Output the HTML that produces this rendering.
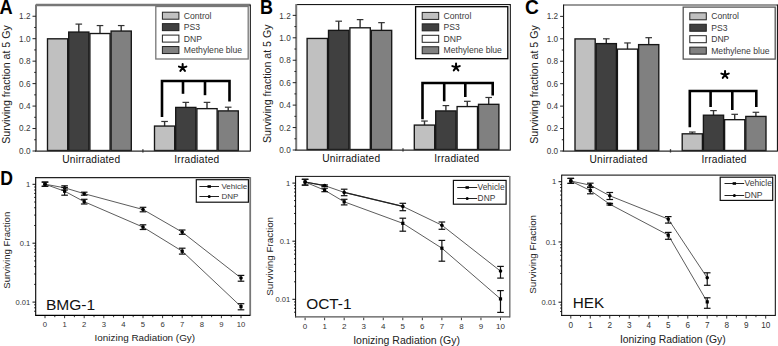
<!DOCTYPE html>
<html><head><meta charset="utf-8"><style>
html,body{margin:0;padding:0;background:#fff;width:778px;height:346px;overflow:hidden}
svg{display:block;font-family:"Liberation Sans", sans-serif}
</style></head><body>
<svg width="778" height="346" viewBox="0 0 778 346" font-family='"Liberation Sans", sans-serif'>
<rect x="0" y="0" width="778" height="346" fill="#fff"/>
<text x="0" y="0" font-size="20" font-weight="bold" fill="#000" transform="translate(-0.50 13.60) scale(0.91 1)">A</text>
<rect x="47.50" y="38.80" width="20.20" height="111.70" fill="#c0c0c0" stroke="#161616" stroke-width="1.35"/>
<line x1="78.80" y1="24.10" x2="78.80" y2="31.96" stroke="#333" stroke-width="1.4"/>
<line x1="75.50" y1="24.10" x2="82.10" y2="24.10" stroke="#333" stroke-width="1.2"/>
<rect x="68.70" y="32.06" width="20.20" height="118.44" fill="#404040" stroke="#161616" stroke-width="1.35"/>
<line x1="100.00" y1="25.56" x2="100.00" y2="33.42" stroke="#333" stroke-width="1.4"/>
<line x1="96.70" y1="25.56" x2="103.30" y2="25.56" stroke="#333" stroke-width="1.2"/>
<rect x="89.90" y="33.52" width="20.20" height="116.98" fill="#ffffff" stroke="#161616" stroke-width="1.35"/>
<line x1="121.20" y1="25.56" x2="121.20" y2="30.95" stroke="#333" stroke-width="1.4"/>
<line x1="117.90" y1="25.56" x2="124.50" y2="25.56" stroke="#333" stroke-width="1.2"/>
<rect x="111.10" y="31.05" width="20.20" height="119.45" fill="#808080" stroke="#161616" stroke-width="1.35"/>
<line x1="164.60" y1="121.47" x2="164.60" y2="125.96" stroke="#333" stroke-width="1.4"/>
<line x1="161.30" y1="121.47" x2="167.90" y2="121.47" stroke="#333" stroke-width="1.2"/>
<rect x="154.50" y="126.06" width="20.20" height="24.44" fill="#c0c0c0" stroke="#161616" stroke-width="1.35"/>
<line x1="185.80" y1="102.37" x2="185.80" y2="107.32" stroke="#333" stroke-width="1.4"/>
<line x1="182.50" y1="102.37" x2="189.10" y2="102.37" stroke="#333" stroke-width="1.2"/>
<rect x="175.70" y="107.42" width="20.20" height="43.08" fill="#404040" stroke="#161616" stroke-width="1.35"/>
<line x1="207.00" y1="102.37" x2="207.00" y2="108.55" stroke="#333" stroke-width="1.4"/>
<line x1="203.70" y1="102.37" x2="210.30" y2="102.37" stroke="#333" stroke-width="1.2"/>
<rect x="196.90" y="108.65" width="20.20" height="41.85" fill="#ffffff" stroke="#161616" stroke-width="1.35"/>
<line x1="228.20" y1="107.20" x2="228.20" y2="110.80" stroke="#333" stroke-width="1.4"/>
<line x1="224.90" y1="107.20" x2="231.50" y2="107.20" stroke="#333" stroke-width="1.2"/>
<rect x="218.10" y="110.90" width="20.20" height="39.60" fill="#808080" stroke="#161616" stroke-width="1.35"/>
<line x1="36.00" y1="5.00" x2="250.30" y2="5.00" stroke="#777" stroke-width="2.5"/>
<line x1="36.00" y1="4.50" x2="36.00" y2="151.00" stroke="#777" stroke-width="2"/>
<line x1="250.30" y1="4.50" x2="250.30" y2="151.50" stroke="#000" stroke-width="1"/>
<line x1="35.00" y1="151.10" x2="250.30" y2="151.10" stroke="#2a2a2a" stroke-width="1.15"/>
<line x1="142.90" y1="149.20" x2="142.90" y2="152.50" stroke="#333" stroke-width="1.3"/>
<line x1="32.50" y1="151.00" x2="36.00" y2="151.00" stroke="#222" stroke-width="1"/>
<text x="30.50" y="153.90" font-size="8.2" text-anchor="end" fill="#383838" font-weight="normal" >0.0</text>
<line x1="34.20" y1="139.77" x2="36.00" y2="139.77" stroke="#222" stroke-width="1"/>
<line x1="32.50" y1="128.54" x2="36.00" y2="128.54" stroke="#222" stroke-width="1"/>
<text x="30.50" y="131.44" font-size="8.2" text-anchor="end" fill="#383838" font-weight="normal" >0.2</text>
<line x1="34.20" y1="117.31" x2="36.00" y2="117.31" stroke="#222" stroke-width="1"/>
<line x1="32.50" y1="106.08" x2="36.00" y2="106.08" stroke="#222" stroke-width="1"/>
<text x="30.50" y="108.98" font-size="8.2" text-anchor="end" fill="#383838" font-weight="normal" >0.4</text>
<line x1="34.20" y1="94.85" x2="36.00" y2="94.85" stroke="#222" stroke-width="1"/>
<line x1="32.50" y1="83.62" x2="36.00" y2="83.62" stroke="#222" stroke-width="1"/>
<text x="30.50" y="86.52" font-size="8.2" text-anchor="end" fill="#383838" font-weight="normal" >0.6</text>
<line x1="34.20" y1="72.39" x2="36.00" y2="72.39" stroke="#222" stroke-width="1"/>
<line x1="32.50" y1="61.16" x2="36.00" y2="61.16" stroke="#222" stroke-width="1"/>
<text x="30.50" y="64.06" font-size="8.2" text-anchor="end" fill="#383838" font-weight="normal" >0.8</text>
<line x1="34.20" y1="49.93" x2="36.00" y2="49.93" stroke="#222" stroke-width="1"/>
<line x1="32.50" y1="38.70" x2="36.00" y2="38.70" stroke="#222" stroke-width="1"/>
<text x="30.50" y="41.60" font-size="8.2" text-anchor="end" fill="#383838" font-weight="normal" >1.0</text>
<line x1="34.20" y1="27.47" x2="36.00" y2="27.47" stroke="#222" stroke-width="1"/>
<line x1="32.50" y1="16.24" x2="36.00" y2="16.24" stroke="#222" stroke-width="1"/>
<text x="30.50" y="19.14" font-size="8.2" text-anchor="end" fill="#383838" font-weight="normal" >1.2</text>
<text x="0" y="0" font-size="10.62" text-anchor="middle" fill="#222" transform="translate(10.30 84.50) scale(1.06 1) rotate(-90)">Surviving fraction at 5 Gy</text>
<text x="91.30" y="162.80" font-size="10.2" text-anchor="middle" fill="#111" font-weight="normal" letter-spacing="0.22">Unirradiated</text>
<text x="196.90" y="162.80" font-size="10.2" text-anchor="middle" fill="#111" font-weight="normal" letter-spacing="0.22">Irradiated</text>
<rect x="155.80" y="6.50" width="92.40" height="52.50" fill="#fff" stroke="#777" stroke-width="1.3"/>
<rect x="162.40" y="12.20" width="16.50" height="7.00" fill="#c0c0c0" stroke="#222" stroke-width="1"/>
<text x="183.80" y="18.70" font-size="8.6" text-anchor="start" fill="#3a3a3a" font-weight="normal" >Control</text>
<rect x="162.40" y="23.65" width="16.50" height="7.00" fill="#404040" stroke="#222" stroke-width="1"/>
<text x="183.80" y="30.15" font-size="8.6" text-anchor="start" fill="#3a3a3a" font-weight="normal" >PS3</text>
<rect x="162.40" y="35.10" width="16.50" height="7.00" fill="#ffffff" stroke="#222" stroke-width="1"/>
<text x="183.80" y="41.60" font-size="8.6" text-anchor="start" fill="#3a3a3a" font-weight="normal" >DNP</text>
<rect x="162.40" y="46.55" width="16.50" height="7.00" fill="#808080" stroke="#222" stroke-width="1"/>
<text x="183.80" y="53.05" font-size="8.6" text-anchor="start" fill="#3a3a3a" font-weight="normal" >Methylene blue</text>
<path d="M162.00,117.00 V81.00 H229.50 V101.60" fill="none" stroke="#000" stroke-width="2.6"/>
<line x1="183.00" y1="81.00" x2="183.00" y2="93.80" stroke="#000" stroke-width="2.6"/>
<line x1="205.00" y1="81.00" x2="205.00" y2="95.20" stroke="#000" stroke-width="2.6"/>
<path d="M182.65,67.80 l0.00,-3.90 M182.65,67.80 l3.71,-1.21 M182.65,67.80 l-3.71,-1.21 M182.65,67.80 l2.29,3.16 M182.65,67.80 l-2.29,3.16 " stroke="#000" stroke-width="2.0" fill="none" stroke-linecap="round"/>
<text x="0" y="0" font-size="20" font-weight="bold" fill="#000" transform="translate(260.00 13.50) scale(0.9 1)">B</text>
<rect x="307.10" y="38.46" width="20.40" height="111.04" fill="#c0c0c0" stroke="#161616" stroke-width="1.35"/>
<line x1="338.70" y1="21.19" x2="338.70" y2="30.28" stroke="#333" stroke-width="1.4"/>
<line x1="335.40" y1="21.19" x2="342.00" y2="21.19" stroke="#333" stroke-width="1.2"/>
<rect x="328.50" y="30.38" width="20.40" height="119.12" fill="#404040" stroke="#161616" stroke-width="1.35"/>
<line x1="360.10" y1="19.62" x2="360.10" y2="27.70" stroke="#333" stroke-width="1.4"/>
<line x1="356.80" y1="19.62" x2="363.40" y2="19.62" stroke="#333" stroke-width="1.2"/>
<rect x="349.90" y="27.80" width="20.40" height="121.70" fill="#ffffff" stroke="#161616" stroke-width="1.35"/>
<line x1="381.50" y1="22.65" x2="381.50" y2="30.28" stroke="#333" stroke-width="1.4"/>
<line x1="378.20" y1="22.65" x2="384.80" y2="22.65" stroke="#333" stroke-width="1.2"/>
<rect x="371.30" y="30.38" width="20.40" height="119.12" fill="#808080" stroke="#161616" stroke-width="1.35"/>
<line x1="424.50" y1="121.05" x2="424.50" y2="124.98" stroke="#333" stroke-width="1.4"/>
<line x1="421.20" y1="121.05" x2="427.80" y2="121.05" stroke="#333" stroke-width="1.2"/>
<rect x="414.30" y="125.08" width="20.40" height="24.42" fill="#c0c0c0" stroke="#161616" stroke-width="1.35"/>
<line x1="445.90" y1="105.57" x2="445.90" y2="110.84" stroke="#333" stroke-width="1.4"/>
<line x1="442.60" y1="105.57" x2="449.20" y2="105.57" stroke="#333" stroke-width="1.2"/>
<rect x="435.70" y="110.94" width="20.40" height="38.56" fill="#404040" stroke="#161616" stroke-width="1.35"/>
<line x1="467.30" y1="101.31" x2="467.30" y2="106.47" stroke="#333" stroke-width="1.4"/>
<line x1="464.00" y1="101.31" x2="470.60" y2="101.31" stroke="#333" stroke-width="1.2"/>
<rect x="457.10" y="106.57" width="20.40" height="42.93" fill="#ffffff" stroke="#161616" stroke-width="1.35"/>
<line x1="488.70" y1="97.49" x2="488.70" y2="104.22" stroke="#333" stroke-width="1.4"/>
<line x1="485.40" y1="97.49" x2="492.00" y2="97.49" stroke="#333" stroke-width="1.2"/>
<rect x="478.50" y="104.32" width="20.40" height="45.18" fill="#808080" stroke="#161616" stroke-width="1.35"/>
<line x1="296.20" y1="4.60" x2="510.30" y2="4.60" stroke="#000" stroke-width="1"/>
<line x1="296.20" y1="4.10" x2="296.20" y2="150.00" stroke="#777" stroke-width="2"/>
<line x1="510.30" y1="4.10" x2="510.30" y2="150.50" stroke="#000" stroke-width="1"/>
<line x1="295.20" y1="150.10" x2="510.30" y2="150.10" stroke="#2a2a2a" stroke-width="1.15"/>
<line x1="403.00" y1="148.20" x2="403.00" y2="151.50" stroke="#333" stroke-width="1.3"/>
<line x1="292.70" y1="150.00" x2="296.20" y2="150.00" stroke="#222" stroke-width="1"/>
<text x="290.70" y="153.20" font-size="8.2" text-anchor="end" fill="#383838" font-weight="normal" >0.0</text>
<line x1="294.40" y1="138.78" x2="296.20" y2="138.78" stroke="#222" stroke-width="1"/>
<line x1="292.70" y1="127.56" x2="296.20" y2="127.56" stroke="#222" stroke-width="1"/>
<text x="290.70" y="130.76" font-size="8.2" text-anchor="end" fill="#383838" font-weight="normal" >0.2</text>
<line x1="294.40" y1="116.34" x2="296.20" y2="116.34" stroke="#222" stroke-width="1"/>
<line x1="292.70" y1="105.12" x2="296.20" y2="105.12" stroke="#222" stroke-width="1"/>
<text x="290.70" y="108.32" font-size="8.2" text-anchor="end" fill="#383838" font-weight="normal" >0.4</text>
<line x1="294.40" y1="93.90" x2="296.20" y2="93.90" stroke="#222" stroke-width="1"/>
<line x1="292.70" y1="82.68" x2="296.20" y2="82.68" stroke="#222" stroke-width="1"/>
<text x="290.70" y="85.88" font-size="8.2" text-anchor="end" fill="#383838" font-weight="normal" >0.6</text>
<line x1="294.40" y1="71.46" x2="296.20" y2="71.46" stroke="#222" stroke-width="1"/>
<line x1="292.70" y1="60.24" x2="296.20" y2="60.24" stroke="#222" stroke-width="1"/>
<text x="290.70" y="63.44" font-size="8.2" text-anchor="end" fill="#383838" font-weight="normal" >0.8</text>
<line x1="294.40" y1="49.02" x2="296.20" y2="49.02" stroke="#222" stroke-width="1"/>
<line x1="292.70" y1="37.80" x2="296.20" y2="37.80" stroke="#222" stroke-width="1"/>
<text x="290.70" y="41.00" font-size="8.2" text-anchor="end" fill="#383838" font-weight="normal" >1.0</text>
<line x1="294.40" y1="26.58" x2="296.20" y2="26.58" stroke="#222" stroke-width="1"/>
<line x1="292.70" y1="15.36" x2="296.20" y2="15.36" stroke="#222" stroke-width="1"/>
<text x="290.70" y="18.56" font-size="8.2" text-anchor="end" fill="#383838" font-weight="normal" >1.2</text>
<text x="0" y="0" font-size="10.62" text-anchor="middle" fill="#222" transform="translate(271.10 83.80) scale(1.06 1) rotate(-90)">Surviving fraction at 5 Gy</text>
<text x="351.30" y="162.20" font-size="10.2" text-anchor="middle" fill="#111" font-weight="normal" letter-spacing="0.22">Unirradiated</text>
<text x="456.90" y="162.20" font-size="10.2" text-anchor="middle" fill="#111" font-weight="normal" letter-spacing="0.22">Irradiated</text>
<rect x="415.60" y="6.70" width="92.20" height="52.00" fill="#fff" stroke="#000" stroke-width="1.3"/>
<rect x="422.20" y="12.40" width="16.50" height="7.00" fill="#c0c0c0" stroke="#222" stroke-width="1"/>
<text x="443.60" y="18.90" font-size="8.6" text-anchor="start" fill="#3a3a3a" font-weight="normal" >Control</text>
<rect x="422.20" y="23.85" width="16.50" height="7.00" fill="#404040" stroke="#222" stroke-width="1"/>
<text x="443.60" y="30.35" font-size="8.6" text-anchor="start" fill="#3a3a3a" font-weight="normal" >PS3</text>
<rect x="422.20" y="35.30" width="16.50" height="7.00" fill="#ffffff" stroke="#222" stroke-width="1"/>
<text x="443.60" y="41.80" font-size="8.6" text-anchor="start" fill="#3a3a3a" font-weight="normal" >DNP</text>
<rect x="422.20" y="46.75" width="16.50" height="7.00" fill="#808080" stroke="#222" stroke-width="1"/>
<text x="443.60" y="53.25" font-size="8.6" text-anchor="start" fill="#3a3a3a" font-weight="normal" >Methylene blue</text>
<path d="M422.50,119.20 V83.00 H492.70 V95.50" fill="none" stroke="#000" stroke-width="2.6"/>
<line x1="444.20" y1="83.00" x2="444.20" y2="101.30" stroke="#000" stroke-width="2.6"/>
<line x1="465.30" y1="83.00" x2="465.30" y2="97.00" stroke="#000" stroke-width="2.6"/>
<path d="M456.05,67.30 l0.00,-3.90 M456.05,67.30 l3.71,-1.21 M456.05,67.30 l-3.71,-1.21 M456.05,67.30 l2.29,3.16 M456.05,67.30 l-2.29,3.16 " stroke="#000" stroke-width="2.0" fill="none" stroke-linecap="round"/>
<text x="0" y="0" font-size="20" font-weight="bold" fill="#000" transform="translate(525.00 13.50) scale(0.96 1)">C</text>
<rect x="575.00" y="38.90" width="20.20" height="111.60" fill="#c0c0c0" stroke="#161616" stroke-width="1.35"/>
<line x1="606.30" y1="38.80" x2="606.30" y2="43.51" stroke="#333" stroke-width="1.4"/>
<line x1="603.00" y1="38.80" x2="609.60" y2="38.80" stroke="#333" stroke-width="1.2"/>
<rect x="596.20" y="43.61" width="20.20" height="106.89" fill="#404040" stroke="#161616" stroke-width="1.35"/>
<line x1="627.50" y1="42.95" x2="627.50" y2="49.01" stroke="#333" stroke-width="1.4"/>
<line x1="624.20" y1="42.95" x2="630.80" y2="42.95" stroke="#333" stroke-width="1.2"/>
<rect x="617.40" y="49.11" width="20.20" height="101.39" fill="#ffffff" stroke="#161616" stroke-width="1.35"/>
<line x1="648.70" y1="37.68" x2="648.70" y2="44.52" stroke="#333" stroke-width="1.4"/>
<line x1="645.40" y1="37.68" x2="652.00" y2="37.68" stroke="#333" stroke-width="1.2"/>
<rect x="638.60" y="44.62" width="20.20" height="105.88" fill="#808080" stroke="#161616" stroke-width="1.35"/>
<line x1="692.30" y1="132.04" x2="692.30" y2="133.72" stroke="#333" stroke-width="1.4"/>
<line x1="689.00" y1="132.04" x2="695.60" y2="132.04" stroke="#333" stroke-width="1.2"/>
<rect x="682.20" y="133.82" width="20.20" height="16.68" fill="#c0c0c0" stroke="#161616" stroke-width="1.35"/>
<line x1="713.50" y1="110.61" x2="713.50" y2="115.10" stroke="#333" stroke-width="1.4"/>
<line x1="710.20" y1="110.61" x2="716.80" y2="110.61" stroke="#333" stroke-width="1.2"/>
<rect x="703.40" y="115.20" width="20.20" height="35.30" fill="#404040" stroke="#161616" stroke-width="1.35"/>
<line x1="734.70" y1="114.31" x2="734.70" y2="119.58" stroke="#333" stroke-width="1.4"/>
<line x1="731.40" y1="114.31" x2="738.00" y2="114.31" stroke="#333" stroke-width="1.2"/>
<rect x="724.60" y="119.68" width="20.20" height="30.82" fill="#ffffff" stroke="#161616" stroke-width="1.35"/>
<line x1="755.90" y1="112.29" x2="755.90" y2="116.33" stroke="#333" stroke-width="1.4"/>
<line x1="752.60" y1="112.29" x2="759.20" y2="112.29" stroke="#333" stroke-width="1.2"/>
<rect x="745.80" y="116.43" width="20.20" height="34.07" fill="#808080" stroke="#161616" stroke-width="1.35"/>
<line x1="563.60" y1="5.00" x2="777.40" y2="5.00" stroke="#777" stroke-width="1.5"/>
<line x1="563.60" y1="4.50" x2="563.60" y2="151.00" stroke="#000" stroke-width="1"/>
<line x1="777.40" y1="4.50" x2="777.40" y2="151.50" stroke="#000" stroke-width="1"/>
<line x1="562.60" y1="151.10" x2="777.40" y2="151.10" stroke="#2a2a2a" stroke-width="1.15"/>
<line x1="670.50" y1="149.20" x2="670.50" y2="152.50" stroke="#333" stroke-width="1.3"/>
<line x1="560.10" y1="151.00" x2="563.60" y2="151.00" stroke="#222" stroke-width="1"/>
<text x="558.10" y="153.90" font-size="8.2" text-anchor="end" fill="#383838" font-weight="normal" >0.0</text>
<line x1="561.80" y1="139.78" x2="563.60" y2="139.78" stroke="#222" stroke-width="1"/>
<line x1="560.10" y1="128.56" x2="563.60" y2="128.56" stroke="#222" stroke-width="1"/>
<text x="558.10" y="131.46" font-size="8.2" text-anchor="end" fill="#383838" font-weight="normal" >0.2</text>
<line x1="561.80" y1="117.34" x2="563.60" y2="117.34" stroke="#222" stroke-width="1"/>
<line x1="560.10" y1="106.12" x2="563.60" y2="106.12" stroke="#222" stroke-width="1"/>
<text x="558.10" y="109.02" font-size="8.2" text-anchor="end" fill="#383838" font-weight="normal" >0.4</text>
<line x1="561.80" y1="94.90" x2="563.60" y2="94.90" stroke="#222" stroke-width="1"/>
<line x1="560.10" y1="83.68" x2="563.60" y2="83.68" stroke="#222" stroke-width="1"/>
<text x="558.10" y="86.58" font-size="8.2" text-anchor="end" fill="#383838" font-weight="normal" >0.6</text>
<line x1="561.80" y1="72.46" x2="563.60" y2="72.46" stroke="#222" stroke-width="1"/>
<line x1="560.10" y1="61.24" x2="563.60" y2="61.24" stroke="#222" stroke-width="1"/>
<text x="558.10" y="64.14" font-size="8.2" text-anchor="end" fill="#383838" font-weight="normal" >0.8</text>
<line x1="561.80" y1="50.02" x2="563.60" y2="50.02" stroke="#222" stroke-width="1"/>
<line x1="560.10" y1="38.80" x2="563.60" y2="38.80" stroke="#222" stroke-width="1"/>
<text x="558.10" y="41.70" font-size="8.2" text-anchor="end" fill="#383838" font-weight="normal" >1.0</text>
<line x1="561.80" y1="27.58" x2="563.60" y2="27.58" stroke="#222" stroke-width="1"/>
<line x1="560.10" y1="16.36" x2="563.60" y2="16.36" stroke="#222" stroke-width="1"/>
<text x="558.10" y="19.26" font-size="8.2" text-anchor="end" fill="#383838" font-weight="normal" >1.2</text>
<text x="0" y="0" font-size="10.62" text-anchor="middle" fill="#222" transform="translate(538.10 84.50) scale(1.06 1) rotate(-90)">Surviving fraction at 5 Gy</text>
<text x="618.60" y="163.00" font-size="10.2" text-anchor="middle" fill="#111" font-weight="normal" letter-spacing="0.22">Unirradiated</text>
<text x="724.10" y="163.00" font-size="10.2" text-anchor="middle" fill="#111" font-weight="normal" letter-spacing="0.22">Irradiated</text>
<rect x="683.20" y="7.10" width="92.00" height="52.00" fill="#fff" stroke="#555" stroke-width="1.3"/>
<rect x="689.80" y="12.80" width="16.50" height="7.00" fill="#c0c0c0" stroke="#222" stroke-width="1"/>
<text x="711.20" y="19.30" font-size="8.6" text-anchor="start" fill="#3a3a3a" font-weight="normal" >Control</text>
<rect x="689.80" y="24.25" width="16.50" height="7.00" fill="#404040" stroke="#222" stroke-width="1"/>
<text x="711.20" y="30.75" font-size="8.6" text-anchor="start" fill="#3a3a3a" font-weight="normal" >PS3</text>
<rect x="689.80" y="35.70" width="16.50" height="7.00" fill="#ffffff" stroke="#222" stroke-width="1"/>
<text x="711.20" y="42.20" font-size="8.6" text-anchor="start" fill="#3a3a3a" font-weight="normal" >DNP</text>
<rect x="689.80" y="47.15" width="16.50" height="7.00" fill="#808080" stroke="#222" stroke-width="1"/>
<text x="711.20" y="53.65" font-size="8.6" text-anchor="start" fill="#3a3a3a" font-weight="normal" >Methylene blue</text>
<path d="M689.80,127.30 V91.00 H756.30 V107.00" fill="none" stroke="#000" stroke-width="2.6"/>
<line x1="710.60" y1="91.00" x2="710.60" y2="107.00" stroke="#000" stroke-width="2.6"/>
<line x1="732.30" y1="91.00" x2="732.30" y2="110.00" stroke="#000" stroke-width="2.6"/>
<path d="M725.05,74.80 l0.00,-3.90 M725.05,74.80 l3.71,-1.21 M725.05,74.80 l-3.71,-1.21 M725.05,74.80 l2.29,3.16 M725.05,74.80 l-2.29,3.16 " stroke="#000" stroke-width="2.0" fill="none" stroke-linecap="round"/>
<text x="0" y="0" font-size="20" font-weight="bold" fill="#000" transform="translate(0.30 185.00) scale(0.88 1)">D</text>
<line x1="32.50" y1="184.30" x2="35.70" y2="184.30" stroke="#111" stroke-width="1"/>
<text x="30.30" y="187.00" font-size="7.6" text-anchor="end" fill="#333" font-weight="normal" >1</text>
<line x1="32.50" y1="243.20" x2="35.70" y2="243.20" stroke="#111" stroke-width="1"/>
<text x="30.30" y="245.90" font-size="7.6" text-anchor="end" fill="#333" font-weight="normal" >0.1</text>
<line x1="32.50" y1="302.10" x2="35.70" y2="302.10" stroke="#111" stroke-width="1"/>
<text x="30.30" y="304.80" font-size="7.6" text-anchor="end" fill="#333" font-weight="normal" >0.01</text>
<line x1="34.10" y1="225.47" x2="35.70" y2="225.47" stroke="#111" stroke-width="0.9"/>
<line x1="34.10" y1="215.10" x2="35.70" y2="215.10" stroke="#111" stroke-width="0.9"/>
<line x1="34.10" y1="207.74" x2="35.70" y2="207.74" stroke="#111" stroke-width="0.9"/>
<line x1="34.10" y1="202.03" x2="35.70" y2="202.03" stroke="#111" stroke-width="0.9"/>
<line x1="34.10" y1="197.37" x2="35.70" y2="197.37" stroke="#111" stroke-width="0.9"/>
<line x1="34.10" y1="193.42" x2="35.70" y2="193.42" stroke="#111" stroke-width="0.9"/>
<line x1="34.10" y1="190.01" x2="35.70" y2="190.01" stroke="#111" stroke-width="0.9"/>
<line x1="34.10" y1="187.00" x2="35.70" y2="187.00" stroke="#111" stroke-width="0.9"/>
<line x1="34.10" y1="284.37" x2="35.70" y2="284.37" stroke="#111" stroke-width="0.9"/>
<line x1="34.10" y1="274.00" x2="35.70" y2="274.00" stroke="#111" stroke-width="0.9"/>
<line x1="34.10" y1="266.64" x2="35.70" y2="266.64" stroke="#111" stroke-width="0.9"/>
<line x1="34.10" y1="260.93" x2="35.70" y2="260.93" stroke="#111" stroke-width="0.9"/>
<line x1="34.10" y1="256.27" x2="35.70" y2="256.27" stroke="#111" stroke-width="0.9"/>
<line x1="34.10" y1="252.32" x2="35.70" y2="252.32" stroke="#111" stroke-width="0.9"/>
<line x1="34.10" y1="248.91" x2="35.70" y2="248.91" stroke="#111" stroke-width="0.9"/>
<line x1="34.10" y1="245.90" x2="35.70" y2="245.90" stroke="#111" stroke-width="0.9"/>
<line x1="34.10" y1="311.22" x2="35.70" y2="311.22" stroke="#111" stroke-width="0.9"/>
<line x1="34.10" y1="307.81" x2="35.70" y2="307.81" stroke="#111" stroke-width="0.9"/>
<line x1="34.10" y1="304.80" x2="35.70" y2="304.80" stroke="#111" stroke-width="0.9"/>
<line x1="45.00" y1="316.00" x2="45.00" y2="318.20" stroke="#333" stroke-width="1"/>
<text x="45.00" y="326.60" font-size="7.7" text-anchor="middle" fill="#333" font-weight="normal" >0</text>
<line x1="54.80" y1="316.00" x2="54.80" y2="317.20" stroke="#222" stroke-width="0.9"/>
<line x1="64.60" y1="316.00" x2="64.60" y2="318.20" stroke="#333" stroke-width="1"/>
<text x="64.60" y="326.60" font-size="7.7" text-anchor="middle" fill="#333" font-weight="normal" >1</text>
<line x1="74.40" y1="316.00" x2="74.40" y2="317.20" stroke="#222" stroke-width="0.9"/>
<line x1="84.20" y1="316.00" x2="84.20" y2="318.20" stroke="#333" stroke-width="1"/>
<text x="84.20" y="326.60" font-size="7.7" text-anchor="middle" fill="#333" font-weight="normal" >2</text>
<line x1="94.00" y1="316.00" x2="94.00" y2="317.20" stroke="#222" stroke-width="0.9"/>
<line x1="103.80" y1="316.00" x2="103.80" y2="318.20" stroke="#333" stroke-width="1"/>
<text x="103.80" y="326.60" font-size="7.7" text-anchor="middle" fill="#333" font-weight="normal" >3</text>
<line x1="113.60" y1="316.00" x2="113.60" y2="317.20" stroke="#222" stroke-width="0.9"/>
<line x1="123.40" y1="316.00" x2="123.40" y2="318.20" stroke="#333" stroke-width="1"/>
<text x="123.40" y="326.60" font-size="7.7" text-anchor="middle" fill="#333" font-weight="normal" >4</text>
<line x1="133.20" y1="316.00" x2="133.20" y2="317.20" stroke="#222" stroke-width="0.9"/>
<line x1="143.00" y1="316.00" x2="143.00" y2="318.20" stroke="#333" stroke-width="1"/>
<text x="143.00" y="326.60" font-size="7.7" text-anchor="middle" fill="#333" font-weight="normal" >5</text>
<line x1="152.80" y1="316.00" x2="152.80" y2="317.20" stroke="#222" stroke-width="0.9"/>
<line x1="162.60" y1="316.00" x2="162.60" y2="318.20" stroke="#333" stroke-width="1"/>
<text x="162.60" y="326.60" font-size="7.7" text-anchor="middle" fill="#333" font-weight="normal" >6</text>
<line x1="172.40" y1="316.00" x2="172.40" y2="317.20" stroke="#222" stroke-width="0.9"/>
<line x1="182.20" y1="316.00" x2="182.20" y2="318.20" stroke="#333" stroke-width="1"/>
<text x="182.20" y="326.60" font-size="7.7" text-anchor="middle" fill="#333" font-weight="normal" >7</text>
<line x1="192.00" y1="316.00" x2="192.00" y2="317.20" stroke="#222" stroke-width="0.9"/>
<line x1="201.80" y1="316.00" x2="201.80" y2="318.20" stroke="#333" stroke-width="1"/>
<text x="201.80" y="326.60" font-size="7.7" text-anchor="middle" fill="#333" font-weight="normal" >8</text>
<line x1="211.60" y1="316.00" x2="211.60" y2="317.20" stroke="#222" stroke-width="0.9"/>
<line x1="221.40" y1="316.00" x2="221.40" y2="318.20" stroke="#333" stroke-width="1"/>
<text x="221.40" y="326.60" font-size="7.7" text-anchor="middle" fill="#333" font-weight="normal" >9</text>
<line x1="231.20" y1="316.00" x2="231.20" y2="317.20" stroke="#222" stroke-width="0.9"/>
<line x1="241.00" y1="316.00" x2="241.00" y2="318.20" stroke="#333" stroke-width="1"/>
<text x="241.00" y="326.60" font-size="7.7" text-anchor="middle" fill="#333" font-weight="normal" >10</text>
<line x1="35.70" y1="177.60" x2="250.20" y2="177.60" stroke="#222" stroke-width="1.2"/>
<line x1="35.70" y1="177.10" x2="35.70" y2="315.80" stroke="#000" stroke-width="1.1"/>
<line x1="250.20" y1="177.10" x2="250.20" y2="315.80" stroke="#777" stroke-width="1.8"/>
<line x1="35.20" y1="315.30" x2="250.20" y2="315.30" stroke="#000" stroke-width="1.2"/>
<polyline points="45.00,184.20 64.60,187.80 84.20,193.70 143.00,209.50 182.20,232.10 241.00,278.00" fill="none" stroke="#4a4a4a" stroke-width="0.9"/>
<polyline points="45.00,184.20 64.60,191.20 84.20,201.70 143.00,227.10 182.20,251.20 241.00,306.60" fill="none" stroke="#4a4a4a" stroke-width="0.9"/>
<line x1="45.00" y1="182.10" x2="45.00" y2="186.30" stroke="#111" stroke-width="1.2"/>
<line x1="41.70" y1="182.10" x2="48.30" y2="182.10" stroke="#111" stroke-width="1.2"/>
<line x1="41.70" y1="186.30" x2="48.30" y2="186.30" stroke="#111" stroke-width="1.2"/>
<circle cx="45.00" cy="184.20" r="1.8" fill="#000"/>
<line x1="64.60" y1="185.80" x2="64.60" y2="190.00" stroke="#111" stroke-width="1.2"/>
<line x1="61.30" y1="185.80" x2="67.90" y2="185.80" stroke="#111" stroke-width="1.2"/>
<line x1="61.30" y1="190.00" x2="67.90" y2="190.00" stroke="#111" stroke-width="1.2"/>
<circle cx="64.60" cy="187.80" r="1.8" fill="#000"/>
<line x1="84.20" y1="192.20" x2="84.20" y2="195.20" stroke="#111" stroke-width="1.2"/>
<line x1="80.90" y1="192.20" x2="87.50" y2="192.20" stroke="#111" stroke-width="1.2"/>
<line x1="80.90" y1="195.20" x2="87.50" y2="195.20" stroke="#111" stroke-width="1.2"/>
<circle cx="84.20" cy="193.70" r="1.8" fill="#000"/>
<line x1="143.00" y1="207.30" x2="143.00" y2="211.80" stroke="#111" stroke-width="1.2"/>
<line x1="139.70" y1="207.30" x2="146.30" y2="207.30" stroke="#111" stroke-width="1.2"/>
<line x1="139.70" y1="211.80" x2="146.30" y2="211.80" stroke="#111" stroke-width="1.2"/>
<circle cx="143.00" cy="209.50" r="1.8" fill="#000"/>
<line x1="182.20" y1="230.00" x2="182.20" y2="234.30" stroke="#111" stroke-width="1.2"/>
<line x1="178.90" y1="230.00" x2="185.50" y2="230.00" stroke="#111" stroke-width="1.2"/>
<line x1="178.90" y1="234.30" x2="185.50" y2="234.30" stroke="#111" stroke-width="1.2"/>
<circle cx="182.20" cy="232.10" r="1.8" fill="#000"/>
<line x1="241.00" y1="275.40" x2="241.00" y2="281.20" stroke="#111" stroke-width="1.2"/>
<line x1="237.70" y1="275.40" x2="244.30" y2="275.40" stroke="#111" stroke-width="1.2"/>
<line x1="237.70" y1="281.20" x2="244.30" y2="281.20" stroke="#111" stroke-width="1.2"/>
<circle cx="241.00" cy="278.00" r="1.8" fill="#000"/>
<line x1="45.00" y1="182.10" x2="45.00" y2="186.30" stroke="#111" stroke-width="1.2"/>
<line x1="41.70" y1="182.10" x2="48.30" y2="182.10" stroke="#111" stroke-width="1.2"/>
<line x1="41.70" y1="186.30" x2="48.30" y2="186.30" stroke="#111" stroke-width="1.2"/>
<rect x="43.40" y="182.60" width="3.20" height="3.20" fill="#000" stroke="none" stroke-width="0"/>
<line x1="64.60" y1="187.50" x2="64.60" y2="195.20" stroke="#111" stroke-width="1.2"/>
<line x1="61.30" y1="187.50" x2="67.90" y2="187.50" stroke="#111" stroke-width="1.2"/>
<line x1="61.30" y1="195.20" x2="67.90" y2="195.20" stroke="#111" stroke-width="1.2"/>
<rect x="63.00" y="189.60" width="3.20" height="3.20" fill="#000" stroke="none" stroke-width="0"/>
<line x1="84.20" y1="199.30" x2="84.20" y2="204.00" stroke="#111" stroke-width="1.2"/>
<line x1="80.90" y1="199.30" x2="87.50" y2="199.30" stroke="#111" stroke-width="1.2"/>
<line x1="80.90" y1="204.00" x2="87.50" y2="204.00" stroke="#111" stroke-width="1.2"/>
<rect x="82.60" y="200.10" width="3.20" height="3.20" fill="#000" stroke="none" stroke-width="0"/>
<line x1="143.00" y1="224.80" x2="143.00" y2="229.50" stroke="#111" stroke-width="1.2"/>
<line x1="139.70" y1="224.80" x2="146.30" y2="224.80" stroke="#111" stroke-width="1.2"/>
<line x1="139.70" y1="229.50" x2="146.30" y2="229.50" stroke="#111" stroke-width="1.2"/>
<rect x="141.40" y="225.50" width="3.20" height="3.20" fill="#000" stroke="none" stroke-width="0"/>
<line x1="182.20" y1="248.20" x2="182.20" y2="254.10" stroke="#111" stroke-width="1.2"/>
<line x1="178.90" y1="248.20" x2="185.50" y2="248.20" stroke="#111" stroke-width="1.2"/>
<line x1="178.90" y1="254.10" x2="185.50" y2="254.10" stroke="#111" stroke-width="1.2"/>
<rect x="180.60" y="249.60" width="3.20" height="3.20" fill="#000" stroke="none" stroke-width="0"/>
<line x1="241.00" y1="303.70" x2="241.00" y2="309.80" stroke="#111" stroke-width="1.2"/>
<line x1="237.70" y1="303.70" x2="244.30" y2="303.70" stroke="#111" stroke-width="1.2"/>
<line x1="237.70" y1="309.80" x2="244.30" y2="309.80" stroke="#111" stroke-width="1.2"/>
<rect x="239.40" y="305.00" width="3.20" height="3.20" fill="#000" stroke="none" stroke-width="0"/>
<text x="45.90" y="309.70" font-size="15.55" text-anchor="start" fill="#111" font-weight="normal" >BMG-1</text>
<text x="10.20" y="250.20" font-size="9.65" text-anchor="middle" fill="#222" font-weight="normal" transform="rotate(-90 10.20 250.20)">Surviving Fraction</text>
<text x="144.85" y="340.70" font-size="9.88" text-anchor="middle" fill="#222" font-weight="normal" >Ionizing Radiation (Gy)</text>
<rect x="196.30" y="179.70" width="52.10" height="22.50" fill="#fff" stroke="#111" stroke-width="1.2"/>
<line x1="199.40" y1="186.50" x2="219.00" y2="186.50" stroke="#222" stroke-width="1"/>
<rect x="207.50" y="185.20" width="3.40" height="2.60" fill="#000" stroke="none" stroke-width="0"/>
<text x="221.40" y="189.20" font-size="8.0" text-anchor="start" fill="#3a3a3a" font-weight="normal" >Vehicle</text>
<line x1="199.40" y1="196.50" x2="219.00" y2="196.50" stroke="#222" stroke-width="1"/>
<circle cx="209.20" cy="196.50" r="1.5" fill="#000"/>
<text x="221.40" y="199.20" font-size="8.0" text-anchor="start" fill="#3a3a3a" font-weight="normal" >DNP</text>
<line x1="292.40" y1="183.10" x2="295.60" y2="183.10" stroke="#111" stroke-width="1"/>
<text x="290.20" y="185.80" font-size="7.6" text-anchor="end" fill="#333" font-weight="normal" >1</text>
<line x1="292.40" y1="241.20" x2="295.60" y2="241.20" stroke="#111" stroke-width="1"/>
<text x="290.20" y="243.90" font-size="7.6" text-anchor="end" fill="#333" font-weight="normal" >0.1</text>
<line x1="292.40" y1="299.30" x2="295.60" y2="299.30" stroke="#111" stroke-width="1"/>
<text x="290.20" y="302.00" font-size="7.6" text-anchor="end" fill="#333" font-weight="normal" >0.01</text>
<line x1="294.00" y1="223.71" x2="295.60" y2="223.71" stroke="#111" stroke-width="0.9"/>
<line x1="294.00" y1="213.48" x2="295.60" y2="213.48" stroke="#111" stroke-width="0.9"/>
<line x1="294.00" y1="206.22" x2="295.60" y2="206.22" stroke="#111" stroke-width="0.9"/>
<line x1="294.00" y1="200.59" x2="295.60" y2="200.59" stroke="#111" stroke-width="0.9"/>
<line x1="294.00" y1="195.99" x2="295.60" y2="195.99" stroke="#111" stroke-width="0.9"/>
<line x1="294.00" y1="192.10" x2="295.60" y2="192.10" stroke="#111" stroke-width="0.9"/>
<line x1="294.00" y1="188.73" x2="295.60" y2="188.73" stroke="#111" stroke-width="0.9"/>
<line x1="294.00" y1="185.76" x2="295.60" y2="185.76" stroke="#111" stroke-width="0.9"/>
<line x1="294.00" y1="281.81" x2="295.60" y2="281.81" stroke="#111" stroke-width="0.9"/>
<line x1="294.00" y1="271.58" x2="295.60" y2="271.58" stroke="#111" stroke-width="0.9"/>
<line x1="294.00" y1="264.32" x2="295.60" y2="264.32" stroke="#111" stroke-width="0.9"/>
<line x1="294.00" y1="258.69" x2="295.60" y2="258.69" stroke="#111" stroke-width="0.9"/>
<line x1="294.00" y1="254.09" x2="295.60" y2="254.09" stroke="#111" stroke-width="0.9"/>
<line x1="294.00" y1="250.20" x2="295.60" y2="250.20" stroke="#111" stroke-width="0.9"/>
<line x1="294.00" y1="246.83" x2="295.60" y2="246.83" stroke="#111" stroke-width="0.9"/>
<line x1="294.00" y1="243.86" x2="295.60" y2="243.86" stroke="#111" stroke-width="0.9"/>
<line x1="294.00" y1="312.19" x2="295.60" y2="312.19" stroke="#111" stroke-width="0.9"/>
<line x1="294.00" y1="308.30" x2="295.60" y2="308.30" stroke="#111" stroke-width="0.9"/>
<line x1="294.00" y1="304.93" x2="295.60" y2="304.93" stroke="#111" stroke-width="0.9"/>
<line x1="294.00" y1="301.96" x2="295.60" y2="301.96" stroke="#111" stroke-width="0.9"/>
<line x1="305.10" y1="317.60" x2="305.10" y2="320.20" stroke="#333" stroke-width="1"/>
<text x="305.10" y="328.70" font-size="8.0" text-anchor="middle" fill="#333" font-weight="normal" >0</text>
<line x1="324.64" y1="317.60" x2="324.64" y2="320.20" stroke="#333" stroke-width="1"/>
<text x="324.64" y="328.70" font-size="8.0" text-anchor="middle" fill="#333" font-weight="normal" >1</text>
<line x1="344.18" y1="317.60" x2="344.18" y2="320.20" stroke="#333" stroke-width="1"/>
<text x="344.18" y="328.70" font-size="8.0" text-anchor="middle" fill="#333" font-weight="normal" >2</text>
<line x1="363.72" y1="317.60" x2="363.72" y2="320.20" stroke="#333" stroke-width="1"/>
<text x="363.72" y="328.70" font-size="8.0" text-anchor="middle" fill="#333" font-weight="normal" >3</text>
<line x1="383.26" y1="317.60" x2="383.26" y2="320.20" stroke="#333" stroke-width="1"/>
<text x="383.26" y="328.70" font-size="8.0" text-anchor="middle" fill="#333" font-weight="normal" >4</text>
<line x1="402.80" y1="317.60" x2="402.80" y2="320.20" stroke="#333" stroke-width="1"/>
<text x="402.80" y="328.70" font-size="8.0" text-anchor="middle" fill="#333" font-weight="normal" >5</text>
<line x1="422.34" y1="317.60" x2="422.34" y2="320.20" stroke="#333" stroke-width="1"/>
<text x="422.34" y="328.70" font-size="8.0" text-anchor="middle" fill="#333" font-weight="normal" >6</text>
<line x1="441.88" y1="317.60" x2="441.88" y2="320.20" stroke="#333" stroke-width="1"/>
<text x="441.88" y="328.70" font-size="8.0" text-anchor="middle" fill="#333" font-weight="normal" >7</text>
<line x1="461.42" y1="317.60" x2="461.42" y2="320.20" stroke="#333" stroke-width="1"/>
<text x="461.42" y="328.70" font-size="8.0" text-anchor="middle" fill="#333" font-weight="normal" >8</text>
<line x1="480.96" y1="317.60" x2="480.96" y2="320.20" stroke="#333" stroke-width="1"/>
<text x="480.96" y="328.70" font-size="8.0" text-anchor="middle" fill="#333" font-weight="normal" >9</text>
<line x1="500.50" y1="317.60" x2="500.50" y2="320.20" stroke="#333" stroke-width="1"/>
<text x="500.50" y="328.70" font-size="8.0" text-anchor="middle" fill="#333" font-weight="normal" >10</text>
<line x1="295.60" y1="176.40" x2="509.80" y2="176.40" stroke="#111" stroke-width="1.0"/>
<line x1="295.60" y1="175.90" x2="295.60" y2="317.40" stroke="#000" stroke-width="1.0"/>
<line x1="509.80" y1="175.90" x2="509.80" y2="317.40" stroke="#777" stroke-width="1.5"/>
<line x1="295.10" y1="316.90" x2="509.80" y2="316.90" stroke="#555" stroke-width="1.4"/>
<polyline points="305.10,182.00 324.64,185.60 344.18,192.40 402.80,206.40 441.88,225.20 500.50,271.10" fill="none" stroke="#4a4a4a" stroke-width="0.9"/>
<polyline points="305.10,182.00 324.64,190.20 344.18,201.80 402.80,223.30 441.88,248.20 500.50,298.90" fill="none" stroke="#4a4a4a" stroke-width="0.9"/>
<line x1="305.10" y1="182.00" x2="324.64" y2="185.60" stroke="#222" stroke-width="1.15"/>
<line x1="344.18" y1="192.40" x2="402.80" y2="206.40" stroke="#222" stroke-width="1.15"/>
<line x1="305.10" y1="179.30" x2="305.10" y2="185.10" stroke="#111" stroke-width="1.2"/>
<line x1="301.80" y1="179.30" x2="308.40" y2="179.30" stroke="#111" stroke-width="1.2"/>
<line x1="301.80" y1="185.10" x2="308.40" y2="185.10" stroke="#111" stroke-width="1.2"/>
<circle cx="305.10" cy="182.00" r="1.8" fill="#000"/>
<line x1="324.64" y1="184.90" x2="324.64" y2="186.40" stroke="#111" stroke-width="1.2"/>
<line x1="321.34" y1="184.90" x2="327.94" y2="184.90" stroke="#111" stroke-width="1.2"/>
<line x1="321.34" y1="186.40" x2="327.94" y2="186.40" stroke="#111" stroke-width="1.2"/>
<circle cx="324.64" cy="185.60" r="1.8" fill="#000"/>
<line x1="344.18" y1="189.20" x2="344.18" y2="195.70" stroke="#111" stroke-width="1.2"/>
<line x1="340.88" y1="189.20" x2="347.48" y2="189.20" stroke="#111" stroke-width="1.2"/>
<line x1="340.88" y1="195.70" x2="347.48" y2="195.70" stroke="#111" stroke-width="1.2"/>
<circle cx="344.18" cy="192.40" r="1.8" fill="#000"/>
<line x1="402.80" y1="203.30" x2="402.80" y2="210.70" stroke="#111" stroke-width="1.2"/>
<line x1="399.50" y1="203.30" x2="406.10" y2="203.30" stroke="#111" stroke-width="1.2"/>
<line x1="399.50" y1="210.70" x2="406.10" y2="210.70" stroke="#111" stroke-width="1.2"/>
<circle cx="402.80" cy="206.40" r="1.8" fill="#000"/>
<line x1="441.88" y1="222.00" x2="441.88" y2="229.30" stroke="#111" stroke-width="1.2"/>
<line x1="438.58" y1="222.00" x2="445.18" y2="222.00" stroke="#111" stroke-width="1.2"/>
<line x1="438.58" y1="229.30" x2="445.18" y2="229.30" stroke="#111" stroke-width="1.2"/>
<circle cx="441.88" cy="225.20" r="1.8" fill="#000"/>
<line x1="500.50" y1="266.40" x2="500.50" y2="278.10" stroke="#111" stroke-width="1.2"/>
<line x1="497.20" y1="266.40" x2="503.80" y2="266.40" stroke="#111" stroke-width="1.2"/>
<line x1="497.20" y1="278.10" x2="503.80" y2="278.10" stroke="#111" stroke-width="1.2"/>
<circle cx="500.50" cy="271.10" r="1.8" fill="#000"/>
<line x1="305.10" y1="179.30" x2="305.10" y2="185.10" stroke="#111" stroke-width="1.2"/>
<line x1="301.80" y1="179.30" x2="308.40" y2="179.30" stroke="#111" stroke-width="1.2"/>
<line x1="301.80" y1="185.10" x2="308.40" y2="185.10" stroke="#111" stroke-width="1.2"/>
<rect x="303.50" y="180.40" width="3.20" height="3.20" fill="#000" stroke="none" stroke-width="0"/>
<line x1="324.64" y1="188.20" x2="324.64" y2="191.70" stroke="#111" stroke-width="1.2"/>
<line x1="321.34" y1="188.20" x2="327.94" y2="188.20" stroke="#111" stroke-width="1.2"/>
<line x1="321.34" y1="191.70" x2="327.94" y2="191.70" stroke="#111" stroke-width="1.2"/>
<rect x="323.04" y="188.60" width="3.20" height="3.20" fill="#000" stroke="none" stroke-width="0"/>
<line x1="344.18" y1="199.30" x2="344.18" y2="204.90" stroke="#111" stroke-width="1.2"/>
<line x1="340.88" y1="199.30" x2="347.48" y2="199.30" stroke="#111" stroke-width="1.2"/>
<line x1="340.88" y1="204.90" x2="347.48" y2="204.90" stroke="#111" stroke-width="1.2"/>
<rect x="342.58" y="200.20" width="3.20" height="3.20" fill="#000" stroke="none" stroke-width="0"/>
<line x1="402.80" y1="218.20" x2="402.80" y2="231.20" stroke="#111" stroke-width="1.2"/>
<line x1="399.50" y1="218.20" x2="406.10" y2="218.20" stroke="#111" stroke-width="1.2"/>
<line x1="399.50" y1="231.20" x2="406.10" y2="231.20" stroke="#111" stroke-width="1.2"/>
<rect x="401.20" y="221.70" width="3.20" height="3.20" fill="#000" stroke="none" stroke-width="0"/>
<line x1="441.88" y1="240.40" x2="441.88" y2="261.20" stroke="#111" stroke-width="1.2"/>
<line x1="438.58" y1="240.40" x2="445.18" y2="240.40" stroke="#111" stroke-width="1.2"/>
<line x1="438.58" y1="261.20" x2="445.18" y2="261.20" stroke="#111" stroke-width="1.2"/>
<rect x="440.28" y="246.60" width="3.20" height="3.20" fill="#000" stroke="none" stroke-width="0"/>
<line x1="500.50" y1="290.60" x2="500.50" y2="312.40" stroke="#111" stroke-width="1.2"/>
<line x1="497.20" y1="290.60" x2="503.80" y2="290.60" stroke="#111" stroke-width="1.2"/>
<line x1="497.20" y1="312.40" x2="503.80" y2="312.40" stroke="#111" stroke-width="1.2"/>
<rect x="498.90" y="297.30" width="3.20" height="3.20" fill="#000" stroke="none" stroke-width="0"/>
<text x="306.20" y="308.80" font-size="15.4" text-anchor="start" fill="#111" font-weight="normal" >OCT-1</text>
<text x="272.60" y="256.30" font-size="9.85" text-anchor="middle" fill="#222" font-weight="normal" transform="rotate(-90 272.60 256.30)">Surviving Fraction</text>
<text x="406.60" y="343.90" font-size="10.5" text-anchor="middle" fill="#222" font-weight="normal" >Ionizing Radiation (Gy)</text>
<rect x="453.40" y="180.40" width="52.70" height="23.80" fill="#fff" stroke="#111" stroke-width="1.2"/>
<line x1="457.20" y1="187.50" x2="477.20" y2="187.50" stroke="#222" stroke-width="1"/>
<rect x="465.50" y="186.20" width="3.40" height="2.60" fill="#000" stroke="none" stroke-width="0"/>
<text x="477.60" y="190.20" font-size="8.4" text-anchor="start" fill="#3a3a3a" font-weight="normal" >Vehicle</text>
<line x1="457.20" y1="198.50" x2="477.20" y2="198.50" stroke="#222" stroke-width="1"/>
<circle cx="467.20" cy="198.50" r="1.5" fill="#000"/>
<text x="477.60" y="201.20" font-size="8.4" text-anchor="start" fill="#3a3a3a" font-weight="normal" >DNP</text>
<line x1="558.50" y1="181.70" x2="561.70" y2="181.70" stroke="#111" stroke-width="1"/>
<text x="556.30" y="184.40" font-size="7.6" text-anchor="end" fill="#333" font-weight="normal" >1</text>
<line x1="558.50" y1="241.95" x2="561.70" y2="241.95" stroke="#111" stroke-width="1"/>
<text x="556.30" y="244.65" font-size="7.6" text-anchor="end" fill="#333" font-weight="normal" >0.1</text>
<line x1="558.50" y1="302.20" x2="561.70" y2="302.20" stroke="#111" stroke-width="1"/>
<text x="556.30" y="304.90" font-size="7.6" text-anchor="end" fill="#333" font-weight="normal" >0.01</text>
<line x1="560.10" y1="223.81" x2="561.70" y2="223.81" stroke="#111" stroke-width="0.9"/>
<line x1="560.10" y1="213.20" x2="561.70" y2="213.20" stroke="#111" stroke-width="0.9"/>
<line x1="560.10" y1="205.68" x2="561.70" y2="205.68" stroke="#111" stroke-width="0.9"/>
<line x1="560.10" y1="199.84" x2="561.70" y2="199.84" stroke="#111" stroke-width="0.9"/>
<line x1="560.10" y1="195.07" x2="561.70" y2="195.07" stroke="#111" stroke-width="0.9"/>
<line x1="560.10" y1="191.03" x2="561.70" y2="191.03" stroke="#111" stroke-width="0.9"/>
<line x1="560.10" y1="187.54" x2="561.70" y2="187.54" stroke="#111" stroke-width="0.9"/>
<line x1="560.10" y1="184.46" x2="561.70" y2="184.46" stroke="#111" stroke-width="0.9"/>
<line x1="560.10" y1="284.06" x2="561.70" y2="284.06" stroke="#111" stroke-width="0.9"/>
<line x1="560.10" y1="273.45" x2="561.70" y2="273.45" stroke="#111" stroke-width="0.9"/>
<line x1="560.10" y1="265.93" x2="561.70" y2="265.93" stroke="#111" stroke-width="0.9"/>
<line x1="560.10" y1="260.09" x2="561.70" y2="260.09" stroke="#111" stroke-width="0.9"/>
<line x1="560.10" y1="255.32" x2="561.70" y2="255.32" stroke="#111" stroke-width="0.9"/>
<line x1="560.10" y1="251.28" x2="561.70" y2="251.28" stroke="#111" stroke-width="0.9"/>
<line x1="560.10" y1="247.79" x2="561.70" y2="247.79" stroke="#111" stroke-width="0.9"/>
<line x1="560.10" y1="244.71" x2="561.70" y2="244.71" stroke="#111" stroke-width="0.9"/>
<line x1="560.10" y1="311.53" x2="561.70" y2="311.53" stroke="#111" stroke-width="0.9"/>
<line x1="560.10" y1="308.04" x2="561.70" y2="308.04" stroke="#111" stroke-width="0.9"/>
<line x1="560.10" y1="304.96" x2="561.70" y2="304.96" stroke="#111" stroke-width="0.9"/>
<line x1="570.80" y1="316.00" x2="570.80" y2="318.60" stroke="#333" stroke-width="1"/>
<text x="570.80" y="327.50" font-size="8.2" text-anchor="middle" fill="#333" font-weight="normal" >0</text>
<line x1="580.54" y1="316.00" x2="580.54" y2="317.20" stroke="#222" stroke-width="0.9"/>
<line x1="590.29" y1="316.00" x2="590.29" y2="318.60" stroke="#333" stroke-width="1"/>
<text x="590.29" y="327.50" font-size="8.2" text-anchor="middle" fill="#333" font-weight="normal" >1</text>
<line x1="600.03" y1="316.00" x2="600.03" y2="317.20" stroke="#222" stroke-width="0.9"/>
<line x1="609.78" y1="316.00" x2="609.78" y2="318.60" stroke="#333" stroke-width="1"/>
<text x="609.78" y="327.50" font-size="8.2" text-anchor="middle" fill="#333" font-weight="normal" >2</text>
<line x1="619.52" y1="316.00" x2="619.52" y2="317.20" stroke="#222" stroke-width="0.9"/>
<line x1="629.27" y1="316.00" x2="629.27" y2="318.60" stroke="#333" stroke-width="1"/>
<text x="629.27" y="327.50" font-size="8.2" text-anchor="middle" fill="#333" font-weight="normal" >3</text>
<line x1="639.01" y1="316.00" x2="639.01" y2="317.20" stroke="#222" stroke-width="0.9"/>
<line x1="648.76" y1="316.00" x2="648.76" y2="318.60" stroke="#333" stroke-width="1"/>
<text x="648.76" y="327.50" font-size="8.2" text-anchor="middle" fill="#333" font-weight="normal" >4</text>
<line x1="658.50" y1="316.00" x2="658.50" y2="317.20" stroke="#222" stroke-width="0.9"/>
<line x1="668.25" y1="316.00" x2="668.25" y2="318.60" stroke="#333" stroke-width="1"/>
<text x="668.25" y="327.50" font-size="8.2" text-anchor="middle" fill="#333" font-weight="normal" >5</text>
<line x1="678.00" y1="316.00" x2="678.00" y2="317.20" stroke="#222" stroke-width="0.9"/>
<line x1="687.74" y1="316.00" x2="687.74" y2="318.60" stroke="#333" stroke-width="1"/>
<text x="687.74" y="327.50" font-size="8.2" text-anchor="middle" fill="#333" font-weight="normal" >6</text>
<line x1="697.49" y1="316.00" x2="697.49" y2="317.20" stroke="#222" stroke-width="0.9"/>
<line x1="707.23" y1="316.00" x2="707.23" y2="318.60" stroke="#333" stroke-width="1"/>
<text x="707.23" y="327.50" font-size="8.2" text-anchor="middle" fill="#333" font-weight="normal" >7</text>
<line x1="716.97" y1="316.00" x2="716.97" y2="317.20" stroke="#222" stroke-width="0.9"/>
<line x1="726.72" y1="316.00" x2="726.72" y2="318.60" stroke="#333" stroke-width="1"/>
<text x="726.72" y="327.50" font-size="8.2" text-anchor="middle" fill="#333" font-weight="normal" >8</text>
<line x1="736.46" y1="316.00" x2="736.46" y2="317.20" stroke="#222" stroke-width="0.9"/>
<line x1="746.21" y1="316.00" x2="746.21" y2="318.60" stroke="#333" stroke-width="1"/>
<text x="746.21" y="327.50" font-size="8.2" text-anchor="middle" fill="#333" font-weight="normal" >9</text>
<line x1="755.95" y1="316.00" x2="755.95" y2="317.20" stroke="#222" stroke-width="0.9"/>
<line x1="765.70" y1="316.00" x2="765.70" y2="318.60" stroke="#333" stroke-width="1"/>
<text x="765.70" y="327.50" font-size="8.2" text-anchor="middle" fill="#333" font-weight="normal" >10</text>
<line x1="561.70" y1="175.20" x2="775.30" y2="175.20" stroke="#333" stroke-width="1.2"/>
<line x1="561.70" y1="174.70" x2="561.70" y2="315.90" stroke="#000" stroke-width="1.0"/>
<line x1="775.30" y1="174.70" x2="775.30" y2="315.90" stroke="#000" stroke-width="1.0"/>
<line x1="561.20" y1="315.40" x2="775.30" y2="315.40" stroke="#000" stroke-width="1.0"/>
<polyline points="570.80,181.00 590.29,185.20 609.78,195.80 668.25,219.10 707.23,277.80" fill="none" stroke="#4a4a4a" stroke-width="0.9"/>
<polyline points="570.80,181.00 590.29,190.50 609.78,204.20 668.25,235.10 707.23,301.90" fill="none" stroke="#4a4a4a" stroke-width="0.9"/>
<line x1="570.80" y1="178.40" x2="570.80" y2="183.40" stroke="#111" stroke-width="1.2"/>
<line x1="567.50" y1="178.40" x2="574.10" y2="178.40" stroke="#111" stroke-width="1.2"/>
<line x1="567.50" y1="183.40" x2="574.10" y2="183.40" stroke="#111" stroke-width="1.2"/>
<circle cx="570.80" cy="181.00" r="1.8" fill="#000"/>
<line x1="590.29" y1="183.20" x2="590.29" y2="187.50" stroke="#111" stroke-width="1.2"/>
<line x1="586.99" y1="183.20" x2="593.59" y2="183.20" stroke="#111" stroke-width="1.2"/>
<line x1="586.99" y1="187.50" x2="593.59" y2="187.50" stroke="#111" stroke-width="1.2"/>
<circle cx="590.29" cy="185.20" r="1.8" fill="#000"/>
<line x1="609.78" y1="192.50" x2="609.78" y2="199.50" stroke="#111" stroke-width="1.2"/>
<line x1="606.48" y1="192.50" x2="613.08" y2="192.50" stroke="#111" stroke-width="1.2"/>
<line x1="606.48" y1="199.50" x2="613.08" y2="199.50" stroke="#111" stroke-width="1.2"/>
<circle cx="609.78" cy="195.80" r="1.8" fill="#000"/>
<line x1="668.25" y1="216.60" x2="668.25" y2="223.10" stroke="#111" stroke-width="1.2"/>
<line x1="664.95" y1="216.60" x2="671.55" y2="216.60" stroke="#111" stroke-width="1.2"/>
<line x1="664.95" y1="223.10" x2="671.55" y2="223.10" stroke="#111" stroke-width="1.2"/>
<circle cx="668.25" cy="219.10" r="1.8" fill="#000"/>
<line x1="707.23" y1="272.80" x2="707.23" y2="285.30" stroke="#111" stroke-width="1.2"/>
<line x1="703.93" y1="272.80" x2="710.53" y2="272.80" stroke="#111" stroke-width="1.2"/>
<line x1="703.93" y1="285.30" x2="710.53" y2="285.30" stroke="#111" stroke-width="1.2"/>
<circle cx="707.23" cy="277.80" r="1.8" fill="#000"/>
<line x1="570.80" y1="178.40" x2="570.80" y2="183.40" stroke="#111" stroke-width="1.2"/>
<line x1="567.50" y1="178.40" x2="574.10" y2="178.40" stroke="#111" stroke-width="1.2"/>
<line x1="567.50" y1="183.40" x2="574.10" y2="183.40" stroke="#111" stroke-width="1.2"/>
<rect x="569.20" y="179.40" width="3.20" height="3.20" fill="#000" stroke="none" stroke-width="0"/>
<line x1="590.29" y1="187.00" x2="590.29" y2="193.80" stroke="#111" stroke-width="1.2"/>
<line x1="586.99" y1="187.00" x2="593.59" y2="187.00" stroke="#111" stroke-width="1.2"/>
<line x1="586.99" y1="193.80" x2="593.59" y2="193.80" stroke="#111" stroke-width="1.2"/>
<rect x="588.69" y="188.90" width="3.20" height="3.20" fill="#000" stroke="none" stroke-width="0"/>
<line x1="609.78" y1="203.40" x2="609.78" y2="205.00" stroke="#111" stroke-width="1.2"/>
<line x1="606.48" y1="203.40" x2="613.08" y2="203.40" stroke="#111" stroke-width="1.2"/>
<line x1="606.48" y1="205.00" x2="613.08" y2="205.00" stroke="#111" stroke-width="1.2"/>
<rect x="608.18" y="202.60" width="3.20" height="3.20" fill="#000" stroke="none" stroke-width="0"/>
<line x1="668.25" y1="232.40" x2="668.25" y2="239.30" stroke="#111" stroke-width="1.2"/>
<line x1="664.95" y1="232.40" x2="671.55" y2="232.40" stroke="#111" stroke-width="1.2"/>
<line x1="664.95" y1="239.30" x2="671.55" y2="239.30" stroke="#111" stroke-width="1.2"/>
<rect x="666.65" y="233.50" width="3.20" height="3.20" fill="#000" stroke="none" stroke-width="0"/>
<line x1="707.23" y1="297.80" x2="707.23" y2="308.30" stroke="#111" stroke-width="1.2"/>
<line x1="703.93" y1="297.80" x2="710.53" y2="297.80" stroke="#111" stroke-width="1.2"/>
<line x1="703.93" y1="308.30" x2="710.53" y2="308.30" stroke="#111" stroke-width="1.2"/>
<rect x="705.63" y="300.30" width="3.20" height="3.20" fill="#000" stroke="none" stroke-width="0"/>
<text x="572.80" y="307.70" font-size="15.3" text-anchor="start" fill="#111" font-weight="normal" >HEK</text>
<text x="536.30" y="254.30" font-size="9.85" text-anchor="middle" fill="#222" font-weight="normal" transform="rotate(-90 536.30 254.30)">Surviving Fraction</text>
<text x="672.85" y="343.30" font-size="10.42" text-anchor="middle" fill="#222" font-weight="normal" >Ionizing Radiation (Gy)</text>
<rect x="720.20" y="177.20" width="52.50" height="23.20" fill="#fff" stroke="#111" stroke-width="1.2"/>
<line x1="724.50" y1="183.50" x2="744.20" y2="183.50" stroke="#222" stroke-width="1"/>
<rect x="732.65" y="182.20" width="3.40" height="2.60" fill="#000" stroke="none" stroke-width="0"/>
<text x="744.50" y="186.20" font-size="8.5" text-anchor="start" fill="#3a3a3a" font-weight="normal" >Vehicle</text>
<line x1="724.50" y1="195.50" x2="744.20" y2="195.50" stroke="#222" stroke-width="1"/>
<circle cx="734.35" cy="195.50" r="1.5" fill="#000"/>
<text x="744.50" y="198.20" font-size="8.5" text-anchor="start" fill="#3a3a3a" font-weight="normal" >DNP</text>
</svg>
</body></html>
